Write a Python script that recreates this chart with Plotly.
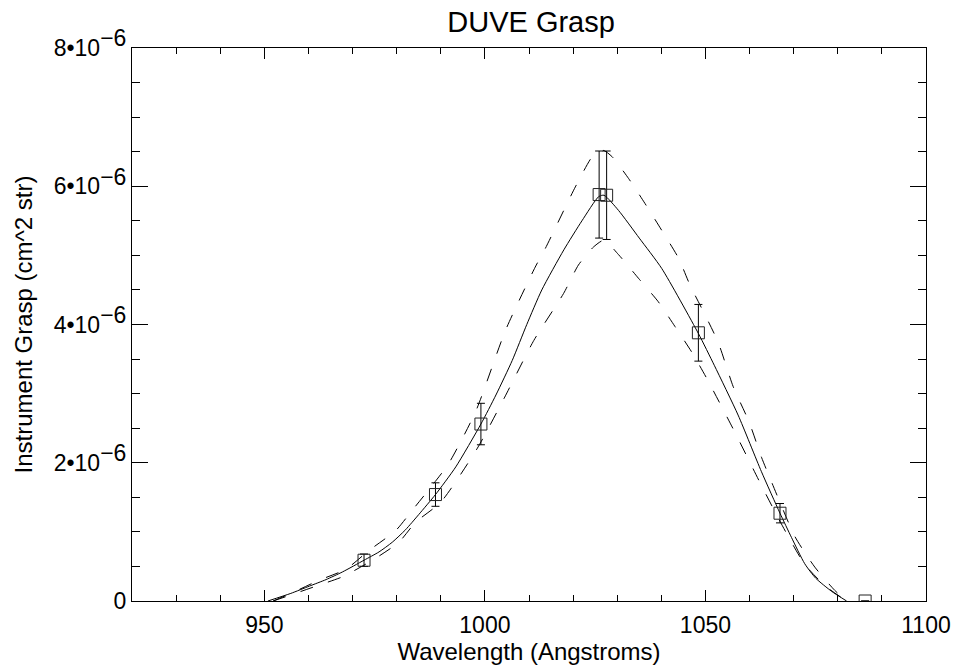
import numpy as np
import plotly.graph_objects as go

# Measured points (wavelength in Angstroms, grasp in units of 1e-6 cm^2 str)
meas_wl = [972.6, 988.8, 999.1, 1025.9, 1027.6, 1048.4, 1066.9, 1086.2]
meas_g = [0.59, 1.54, 2.56, 5.88, 5.87, 3.88, 1.27, 0.0]
meas_err = [0.09, 0.17, 0.30, 0.63, 0.64, 0.41, 0.14, 0.0]

# Model curve
model_wl = [950.8, 956, 960.2, 964, 967.7, 972.6, 976, 979, 982, 985, 988.8, 993.4,
            999.1, 1002.5, 1006.2, 1009.5, 1012.9, 1017.9, 1022, 1025.8, 1027, 1030.3,
            1035, 1040.1, 1048.4, 1052, 1057.4, 1062.7, 1066.9, 1069.5, 1072.5, 1075,
            1078.6, 1082]
model_g = [0.0, 0.11, 0.215, 0.31, 0.42, 0.59, 0.71, 0.85, 1.03, 1.25, 1.54, 1.94,
           2.56, 2.98, 3.48, 4.00, 4.50, 5.08, 5.50, 5.85, 5.87, 5.65,
           5.25, 4.81, 3.87, 3.41, 2.69, 1.87, 1.27, 0.92, 0.54, 0.33,
           0.14, 0.0]

# Upper bound
upper_wl = [952, 957, 962.4, 968.5, 973.7, 979.8, 983.5, 988.4, 991.8, 997.9, 1004.7,
            1011.4, 1013.7, 1020.5, 1024.6, 1026.8, 1028.8, 1032.6, 1036.3, 1040.5, 1043.9,
            1046.5, 1049.9, 1052.9, 1056.3, 1059.9, 1062.7, 1065.0, 1070.3, 1074.8, 1079.3,
            1082]
upper_g = [0.0, 0.14, 0.30, 0.46, 0.73, 1.02, 1.31, 1.70, 1.99, 2.74, 3.92,
           4.83, 5.10, 5.99, 6.45, 6.52, 6.43, 6.11, 5.75, 5.32, 4.96,
           4.57, 4.14, 3.74, 3.10, 2.59, 2.08, 1.72, 0.93, 0.49, 0.155,
           0.0]

# Lower bound
lower_wl = [952, 957, 962.4, 967.7, 974.5, 980.5, 984.3, 990.0, 998.2, 1004.5, 1011.1,
            1017.85, 1021.2, 1024.6, 1027, 1030.3, 1034.8, 1039.3, 1043.1, 1046.9, 1050.3,
            1056.6, 1062.7, 1066.5, 1069.5, 1072.5, 1077.1, 1082]
lower_g = [0.0, 0.11, 0.23, 0.35, 0.59, 0.85, 1.14, 1.43, 2.20, 2.95, 3.77,
           4.45, 4.86, 5.12, 5.22, 5.01, 4.67, 4.33, 3.97, 3.60, 3.22,
           2.45, 1.67, 1.20, 0.85, 0.53, 0.22, 0.0]

x_ticks = [950, 1000, 1050, 1100]
y_ticks = [0, 2, 4, 6, 8]
y_ticktext = ["0"] + [f"{v}•10<sup><span style='font-size:23px'>−6</span></sup>" for v in y_ticks[1:]]

S = 1e-6
FONT = "Liberation Sans, Arial, Helvetica, sans-serif"
DASH = "13px,16px"

fig = go.Figure()
fig.add_trace(go.Scatter(x=model_wl, y=np.array(model_g) * S, mode="lines",
                         line=dict(color="black", width=1, shape="spline", smoothing=0.6),
                         showlegend=False))
fig.add_trace(go.Scatter(x=upper_wl, y=np.array(upper_g) * S, mode="lines",
                         line=dict(color="black", width=1, dash=DASH, shape="spline", smoothing=0.6),
                         showlegend=False))
fig.add_trace(go.Scatter(x=lower_wl, y=np.array(lower_g) * S, mode="lines",
                         line=dict(color="black", width=1, dash=DASH, shape="spline", smoothing=0.6),
                         showlegend=False))
fig.add_trace(go.Scatter(x=meas_wl, y=np.array(meas_g) * S, mode="markers",
                         marker=dict(symbol="square-open", size=12, color="#222",
                                     line=dict(width=1, color="#222")),
                         error_y=dict(type="data", array=np.array(meas_err) * S,
                                      color="black", thickness=1, width=4),
                         showlegend=False))

fig.update_layout(
    width=963, height=666,
    margin=dict(l=132, r=34, t=48, b=65),
    paper_bgcolor="white", plot_bgcolor="white",
    font=dict(family=FONT, color="black", size=23),
    title=dict(text="DUVE Grasp", x=0.5515, xanchor="center", y=0.967, yanchor="middle",
               font=dict(size=29, family=FONT, color="black")),
)
fig.update_xaxes(
    range=[920, 1100], tickvals=x_ticks, ticktext=[str(v) for v in x_ticks],
    ticks="inside", ticklen=11, tickwidth=1, tickcolor="black",
    minor=dict(dtick=10, tick0=920, ticks="inside", ticklen=6, tickwidth=1, tickcolor="black", showgrid=False),
    showline=True, linecolor="black", linewidth=1, mirror="allticks",
    showgrid=False, zeroline=False,
    tickfont=dict(size=23, family=FONT),
    ticklabelstandoff=3,
    title=dict(text="Wavelength (Angstroms)", font=dict(size=24, family=FONT), standoff=0),
)
fig.update_yaxes(
    range=[0, 8e-6], tickvals=[v * S for v in y_ticks], ticktext=y_ticktext,
    ticks="inside", ticklen=16, tickwidth=1, tickcolor="black",
    minor=dict(dtick=0.5e-6, tick0=0, ticks="inside", ticklen=8, tickwidth=1, tickcolor="black", showgrid=False),
    showline=True, linecolor="black", linewidth=1, mirror="allticks",
    showgrid=False, zeroline=False,
    tickfont=dict(size=23, family=FONT),
    title=dict(text="Instrument Grasp (cm^2 str)", font=dict(size=24, family=FONT), standoff=14),
)

fig.write_html("out.html")
